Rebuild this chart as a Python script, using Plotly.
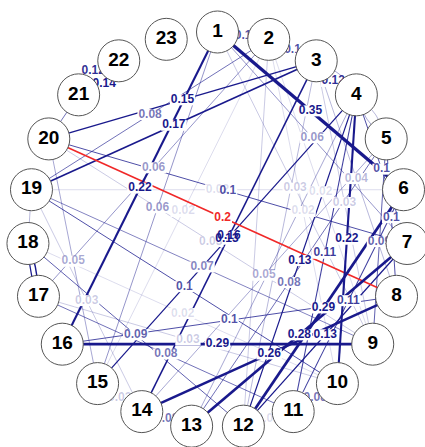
import numpy as np
import plotly.graph_objects as go

# ---------------- data ----------------
node_labels = [str(i) for i in range(1, 24)]

edge_from = [1, 1, 20, 16, 12, 13, 14, 4, 19, 20, 3, 4, 4, 7, 4, 6, 19, 20, 16, 5, 4, 5,
             18, 17, 19, 5, 19, 1, 17, 1, 20, 5, 3, 1, 3, 19, 17, 20, 2, 2, 2, 19, 18,
             1, 2, 3, 4, 4, 5, 17, 18, 21, 22, 20, 18, 10, 11, 13, 14, 3, 2, 4]
edge_to = [6, 16, 8, 9, 6, 7, 8, 10, 3, 3, 14, 15, 12, 12, 11, 11, 10, 7, 8, 8, 7, 9,
           12, 11, 2, 13, 9, 7, 2, 15, 15, 14, 8, 9, 9, 14, 10, 9, 9, 10, 15, 6, 10,
           2, 3, 4, 3, 5, 4, 18, 17, 22, 21, 21, 19, 11, 12, 14, 15, 12, 12, 13]
edge_weight = [0.35, 0.22, -0.20, 0.29, 0.29, 0.28, 0.26, 0.22, 0.17, 0.15, 0.16, 0.13, 0.13,
               0.13, 0.11, 0.11, 0.10, 0.10, 0.10, 0.10, 0.10, 0.09, 0.09, 0.08, 0.08, 0.08,
               0.07, 0.06, 0.06, 0.06, 0.05, 0.05, 0.04, 0.03, 0.03, 0.03, 0.03, 0.03, 0.02,
               0.02, 0.02, 0.02, 0.02, 0.10, 0.10, 0.12, 0.05, 0.05, 0.04, 0.15, 0.13, 0.14,
               0.12, 0.08, 0.04, 0.08, 0.02, 0.08, 0.03, 0.04, 0.03, 0.05]
edge_curve = [0, 0, 0, 0, 0, 0, 0, 0, 0, 0, 0, 0, 0, 0, 0, 0, 0, 0, 0, 0, 0, 0, 0, 0, 0, 0,
              0, 0, 0, 0, 0, 0, 0, 0, 0, 0, 0, 0, 0, 0, 0, 0, 0, 0, 0, 0.18, 0.18, 0.18,
              0.18, 0.1, 0.1, 0.32, 0.32, 0, 0, 0, 0, 0, 0, 0, 0, 0]
edge_label_on = [1] * 46 + [0, 0, 0, 0, 0, 1, 1, 0, 0, 1, 1, 1, 1, 0, 0, 0]

# ---------------- layout geometry (circle layout) ----------------
W, H = 425, 447
CX, CY, RX, RY = 217.5, 230.0, 190.0, 198.0
n = len(node_labels)
ang = np.deg2rad(90 - np.arange(n) * 360.0 / n)
nx = CX + RX * np.cos(ang)
ny = CY - RY * np.sin(ang)

POS = (25, 25, 140)
NEG = (240, 40, 40)


def style(w):
    a = abs(w)
    if w < 0:
        return NEG, 1.0, max(1.0, a * 8.0)
    alpha = float(np.clip(a / 0.13, 0.13, 1.0))
    return POS, alpha, max(1.0, a * 9.5)


def fmt(w):
    return f"{abs(w):.2f}".rstrip("0").rstrip(".")


def text_width(s, size=12):
    return sum(0.278 * size if c == "." else 0.556 * size for c in s)


fig = go.Figure()

lab_x, lab_y, lab_t, lab_c = [], [], [], []
bg_x, bg_y = [], []

order = np.argsort([abs(w) for w in edge_weight], kind="stable")
for i in order:
    a, b, w, cv = edge_from[i] - 1, edge_to[i] - 1, edge_weight[i], edge_curve[i]
    x0, y0, x1, y1 = nx[a], ny[a], nx[b], ny[b]
    dx, dy = x1 - x0, y1 - y0
    L = np.hypot(dx, dy)
    mx, my = (x0 + x1) / 2, (y0 + y1) / 2
    cx_, cy_ = mx + cv * L * (-dy / L), my + cv * L * (dx / L)
    t = np.linspace(0, 1, 25)
    px = (1 - t) ** 2 * x0 + 2 * (1 - t) * t * cx_ + t ** 2 * x1
    py = (1 - t) ** 2 * y0 + 2 * (1 - t) * t * cy_ + t ** 2 * y1
    rgb, alpha, width = style(w)
    col = f"rgba({rgb[0]},{rgb[1]},{rgb[2]},{alpha:.3f})"
    fig.add_trace(go.Scatter(x=px, y=py, mode="lines",
                             line=dict(color=col, width=width),
                             hoverinfo="skip", showlegend=False))
    if not edge_label_on[i]:
        continue
    lx = 0.25 * x0 + 0.5 * cx_ + 0.25 * x1
    ly = 0.25 * y0 + 0.5 * cy_ + 0.25 * y1
    s = fmt(w)
    lab_x.append(lx); lab_y.append(ly); lab_t.append(s); lab_c.append(col)
    tw = text_width(s) + 2
    bg_x += [lx - tw / 2, lx + tw / 2, None]
    bg_y += [ly, ly, None]

fig.add_trace(go.Scatter(x=bg_x, y=bg_y, mode="lines",
                         line=dict(color="white", width=11),
                         hoverinfo="skip", showlegend=False))
fig.add_trace(go.Scatter(x=lab_x, y=lab_y, mode="text", text=lab_t,
                         textposition="middle center",
                         textfont=dict(family="Liberation Sans", size=12,
                                       color=lab_c, weight="bold"),
                         hoverinfo="skip", showlegend=False))
fig.add_trace(go.Scatter(x=nx, y=ny, mode="markers+text", text=node_labels,
                         textposition="middle center",
                         marker=dict(size=42, color="white",
                                     line=dict(color="#555555", width=1)),
                         textfont=dict(family="Liberation Sans", size=19,
                                       color="black", weight="bold"),
                         hoverinfo="skip", showlegend=False))

fig.update_layout(
    width=W, height=H,
    margin=dict(l=0, r=0, t=0, b=0),
    paper_bgcolor="white", plot_bgcolor="white",
    xaxis=dict(range=[0, W], visible=False, fixedrange=True),
    yaxis=dict(range=[H, 0], visible=False, fixedrange=True),
)

fig.write_html("out.html")
